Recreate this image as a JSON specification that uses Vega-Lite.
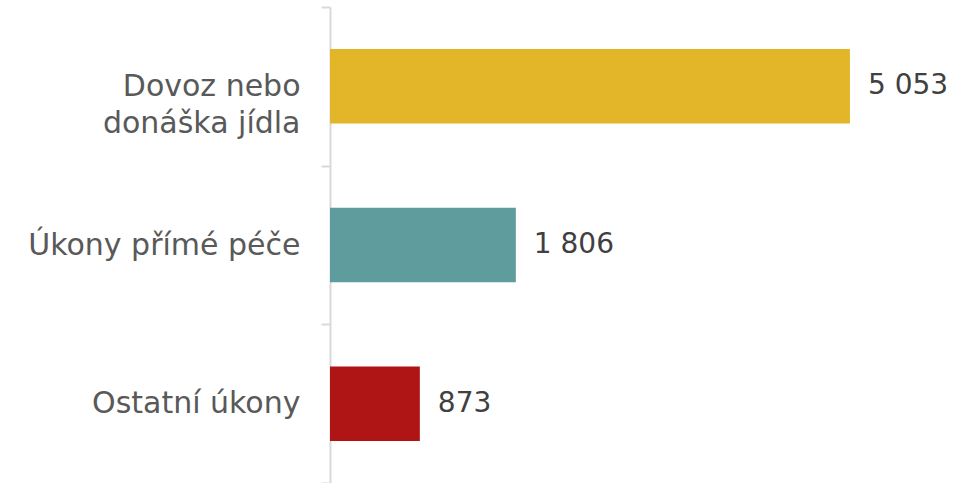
{
  "$schema": "https://vega.github.io/schema/vega-lite/v6.json",
  "autosize": {"type": "none"},
  "padding": {"left": 330, "top": 7, "right": 0, "bottom": 0},
  "width": 624,
  "height": 476,
  "background": "white",
  "config": {
    "view": {"stroke": null},
    "locale": {"number": {"decimal": ",", "thousands": " ", "grouping": [3], "currency": ["", " Kč"]}},
    "font": "DejaVu Sans"
  },
  "data": {
    "values": [
      {"kategorie": "Dovoz nebo\ndonáška jídla", "pocet": 5053, "barva": "#E3B62A"},
      {"kategorie": "Úkony přímé péče", "pocet": 1806, "barva": "#5F9C9D"},
      {"kategorie": "Ostatní úkony", "pocet": 873, "barva": "#AF1515"}
    ]
  },
  "encoding": {
    "y": {
      "field": "kategorie",
      "type": "nominal",
      "sort": null,
      "scale": {"paddingInner": 0, "paddingOuter": 0},
      "axis": {
        "title": null,
        "domainColor": "#d9d9d9",
        "domainWidth": 2,
        "tickColor": "#d9d9d9",
        "tickWidth": 2,
        "tickSize": 9,
        "tickBand": "extent",
        "labelFontSize": 30,
        "labelColor": "#595959",
        "labelPadding": 21,
        "labelLimit": 400,
        "labelLineHeight": 37,
        "labelExpr": "split(datum.label, '\\n')"
      }
    },
    "x": {
      "field": "pocet",
      "type": "quantitative",
      "scale": {"domain": [0, 6064], "nice": false},
      "axis": null
    }
  },
  "layer": [
    {
      "mark": {"type": "bar", "height": {"band": 0.47}},
      "encoding": {"color": {"field": "barva", "type": "nominal", "scale": null}}
    },
    {
      "mark": {"type": "text", "align": "left", "dx": 18, "fontSize": 28, "color": "#404040"},
      "encoding": {"text": {"field": "pocet", "type": "quantitative", "format": ",d"}}
    }
  ]
}
